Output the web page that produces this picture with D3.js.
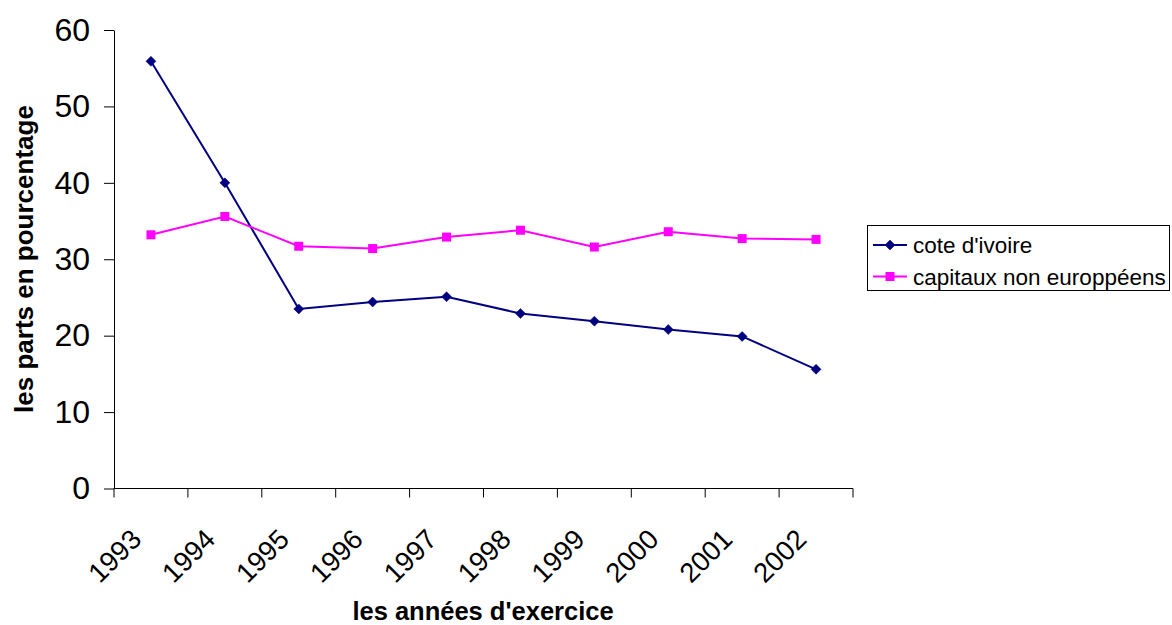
<!DOCTYPE html>
<html>
<head>
<meta charset="utf-8">
<script src="https://cdn.jsdelivr.net/npm/d3@7/dist/d3.min.js"></script>
<style>
  html, body { margin: 0; padding: 0; background: #fff; }
  svg { display: block; font-family: Arial, "Liberation Sans", sans-serif; }
</style>
</head>
<body>
<svg id="chart" width="1172" height="625"></svg>
<script>
// Years of the financial statements
const years = ["1993", "1994", "1995", "1996", "1997", "1998", "1999", "2000", "2001", "2002"];
// Shares in percent
const coteIvoire = [55.9, 40.0, 23.5, 24.4, 25.1, 22.9, 21.9, 20.8, 19.9, 15.6];
const capitauxNonEuropeens = [33.2, 35.6, 31.7, 31.4, 32.9, 33.8, 31.6, 33.6, 32.7, 32.6];
const yTicks = [0, 10, 20, 30, 40, 50, 60];
const seriesNames = ["cote d'ivoire", "capitaux non europpéens"];

const svg = d3.select("#chart");
const plotLeft = 114, plotRight = 853, plotTop = 30, plotBottom = 488.5;

const x = d3.scaleBand().domain(years).range([plotLeft, plotRight]).paddingInner(0).paddingOuter(0);
const y = d3.scaleLinear().domain([0, 60]).range([plotBottom, plotTop]);
const cx = d => x(d) + x.bandwidth() / 2;

// Y axis
const yAxis = svg.append("g").attr("transform", `translate(${plotLeft},0)`)
  .call(d3.axisLeft(y).tickValues(yTicks).tickSize(10).tickPadding(14).tickSizeOuter(0));
yAxis.select(".domain").attr("stroke", "#000").attr("stroke-width", 1);
yAxis.selectAll(".tick line").attr("stroke", "#000");
yAxis.selectAll(".tick text").attr("font-size", 32).attr("fill", "#000")
  .attr("font-family", "Arial, 'Liberation Sans', sans-serif");

// X axis: ticks on category boundaries
const xAxisG = svg.append("g").attr("transform", `translate(0,${plotBottom})`);
xAxisG.append("line").attr("x1", plotLeft).attr("x2", plotRight).attr("stroke", "#000");
const boundaries = years.map(d => x(d)).concat([plotRight]);
xAxisG.selectAll("line.tk").data(boundaries).enter().append("line")
  .attr("class", "tk").attr("x1", d => d).attr("x2", d => d)
  .attr("y1", 0).attr("y2", 9).attr("stroke", "#000");
xAxisG.selectAll("text.yr").data(years).enter().append("text")
  .attr("class", "yr")
  .attr("transform", d => `translate(${cx(d) - 8},${541 - plotBottom}) rotate(-45)`)
  .attr("text-anchor", "end")
  .attr("font-size", 27.5)
  .attr("fill", "#000")
  .text(d => d);

// Axis titles
svg.append("text").attr("x", 483).attr("y", 620).attr("text-anchor", "middle")
  .attr("font-weight", "bold").attr("font-size", 25.5).text("les années d'exercice");
svg.append("text").attr("transform", `translate(33,259) rotate(-90)`).attr("text-anchor", "middle")
  .attr("font-weight", "bold").attr("font-size", 26).text("les parts en pourcentage");

// Series
const series = [
  { name: seriesNames[0], values: coteIvoire, color: "#000080", marker: "diamond" },
  { name: seriesNames[1], values: capitauxNonEuropeens, color: "#FF00FF", marker: "square" }
];
const line = d3.line().x((v, i) => cx(years[i])).y(v => y(v));

function drawMarker(g, type, color) {
  if (type === "diamond") {
    g.append("path").attr("d", "M0,-5L5,0L0,5L-5,0Z").attr("fill", color).attr("stroke", color).attr("stroke-width", 0.5);
  } else {
    g.append("rect").attr("x", -4.5).attr("y", -4.5).attr("width", 9).attr("height", 9).attr("fill", color);
  }
}

series.forEach(s => {
  svg.append("path").datum(s.values).attr("d", line)
    .attr("fill", "none").attr("stroke", s.color).attr("stroke-width", 2);
  s.values.forEach((v, i) => {
    const g = svg.append("g").attr("transform", `translate(${cx(years[i])},${y(v)})`);
    drawMarker(g, s.marker, s.color);
  });
});

// Legend
const lg = svg.append("g");
lg.append("rect").attr("x", 867.5).attr("y", 225.5).attr("width", 302).attr("height", 65)
  .attr("fill", "#fff").attr("stroke", "#000").attr("stroke-width", 1);
series.forEach((s, i) => {
  const ly = 245 + i * 31.5;
  lg.append("line").attr("x1", 873).attr("x2", 907).attr("y1", ly).attr("y2", ly)
    .attr("stroke", s.color).attr("stroke-width", 2);
  const g = lg.append("g").attr("transform", `translate(890,${ly})`);
  drawMarker(g, s.marker, s.color);
  lg.append("text").attr("x", 913).attr("y", ly + 8).attr("font-size", 22.5).attr("fill", "#000").text(s.name);
});
</script>
</body>
</html>
